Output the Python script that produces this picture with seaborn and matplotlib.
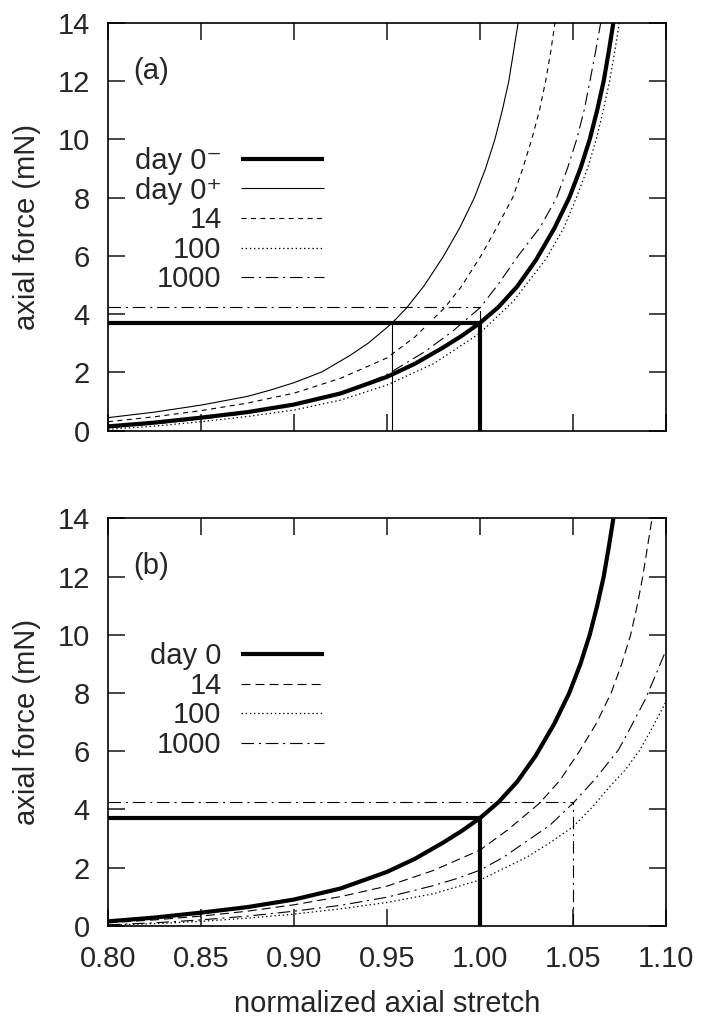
import numpy as np
import pandas as pd
import seaborn as sns
import matplotlib
matplotlib.use('Agg')
import matplotlib.pyplot as plt

# values (stretch, force in mN)
# panel (a)
a_day0m_x = [0.80, 0.825, 0.85, 0.875, 0.90, 0.925, 0.95, 0.965, 0.98, 0.99, 1.00, 1.01, 1.02,
             1.03, 1.04, 1.048, 1.054, 1.059, 1.063, 1.0665, 1.0692, 1.0717]
a_day0m_y = [0.15, 0.28, 0.45, 0.64, 0.90, 1.28, 1.85, 2.30, 2.85, 3.25, 3.70, 4.25, 4.95,
             5.85, 6.95, 8.0, 9.0, 10.0, 11.0, 12.0, 13.0, 14.0]
a_day0p_x = [0.80, 0.825, 0.85, 0.875, 0.8875, 0.90, 0.915, 0.93, 0.94, 0.9525, 0.9606, 0.97, 0.98,
             0.989, 0.997, 1.003, 1.008, 1.012, 1.0155, 1.018, 1.0205]
a_day0p_y = [0.45, 0.64, 0.88, 1.18, 1.40, 1.65, 2.02, 2.58, 3.01, 3.68, 4.22, 4.98, 5.95,
             6.95, 8.0, 9.0, 10.0, 11.0, 12.0, 13.0, 14.0]
a_d14_x = [0.80, 0.825, 0.85, 0.875, 0.90, 0.925, 0.95, 0.965, 0.981, 0.990, 1.0005, 1.0092,
           1.0176, 1.023, 1.0278, 1.032, 1.0353, 1.038, 1.0403]
a_d14_y = [0.31, 0.48, 0.69, 0.95, 1.29, 1.80, 2.50, 3.22, 4.22, 4.95, 6.0, 7.0,
           8.0, 9.0, 10.0, 11.0, 12.0, 13.0, 14.0]
a_d100_x = [0.80, 0.825, 0.85, 0.875, 0.90, 0.925, 0.95, 0.975, 1.00, 1.018, 1.0355, 1.045,
            1.0518, 1.0578, 1.0625, 1.0663, 1.0697, 1.0724, 1.0749]
a_d100_y = [0.05, 0.16, 0.31, 0.49, 0.71, 1.05, 1.57, 2.30, 3.35, 4.45, 5.9, 6.95,
            8.0, 9.0, 10.0, 11.0, 12.0, 13.0, 14.0]
a_d1000_x = [0.80, 0.825, 0.85, 0.875, 0.90, 0.925, 0.9375, 0.95, 0.97, 0.985, 1.00, 1.0095,
             1.0205, 1.0325, 1.0412, 1.047, 1.052, 1.056, 1.0591, 1.0621, 1.0649]
a_d1000_y = [0.10, 0.24, 0.40, 0.60, 0.88, 1.30, 1.58, 1.93, 2.70, 3.40, 4.22, 5.0,
             6.0, 7.0, 8.0, 9.0, 10.0, 11.0, 12.0, 13.0, 14.0]

# panel (b)
b_day0_x = a_day0m_x
b_day0_y = a_day0m_y
b_d14_x = [0.80, 0.825, 0.85, 0.875, 0.90, 0.925, 0.95, 0.975, 1.00, 1.015, 1.032, 1.043,
           1.0535, 1.0625, 1.0705, 1.0762, 1.081, 1.0845, 1.0875, 1.090, 1.0925]
b_d14_y = [0.10, 0.20, 0.33, 0.50, 0.72, 1.00, 1.36, 1.90, 2.60, 3.30, 4.21, 5.0,
           6.0, 6.95, 8.0, 9.0, 10.0, 11.0, 12.0, 13.0, 14.0]
b_d100_x = [0.80, 0.825, 0.85, 0.875, 0.90, 0.925, 0.95, 0.975, 1.00, 1.025, 1.0375, 1.05,
            1.06, 1.07, 1.078, 1.086, 1.093, 1.10]
b_d100_y = [0.02, 0.07, 0.15, 0.26, 0.40, 0.58, 0.80, 1.10, 1.57, 2.35, 2.85, 3.40,
            4.05, 4.80, 5.35, 6.04, 6.85, 7.70]
b_d1000_x = [0.80, 0.825, 0.85, 0.875, 0.90, 0.925, 0.95, 0.975, 0.9875, 1.00, 1.0125, 1.025,
             1.0375, 1.05, 1.062, 1.0744, 1.08, 1.0887, 1.094, 1.10]
b_d1000_y = [0.03, 0.10, 0.20, 0.33, 0.50, 0.70, 0.98, 1.38, 1.62, 1.91, 2.35, 2.90,
             3.45, 4.21, 5.05, 6.04, 6.70, 7.76, 8.55, 9.47]

# reference markers
ref_stretch = 1.00
ref_force = 3.7
ref_force_1000 = 4.24
a_day0p_ref_stretch = 0.9525
b_1000_ref_stretch = 1.05

x_ticks = [0.80, 0.85, 0.90, 0.95, 1.00, 1.05, 1.10]
x_tick_labels = ['0.80', '0.85', '0.90', '0.95', '1.00', '1.05', '1.10']
y_ticks = [0, 2, 4, 6, 8, 10, 12, 14]

sns.set_style('ticks')
plt.rcParams['font.family'] = ['Liberation Sans', 'DejaVu Sans']
plt.rcParams['font.size'] = 21
plt.rcParams['lines.scale_dashes'] = False
plt.rcParams['lines.solid_capstyle'] = 'butt'
plt.rcParams['lines.dash_capstyle'] = 'butt'

thick = dict(color='k', lw=3.0, linestyle='-')
thin = dict(color='k', lw=0.8, linestyle='-')
short_dash = dict(color='k', lw=0.8, linestyle=(0, (3.6, 3.2)))
long_dash = dict(color='k', lw=0.8, linestyle=(0, (6.5, 3.6)))
dots = dict(color='k', lw=0.9, linestyle=(0, (1.0, 2.0)))
dashdot = dict(color='k', lw=0.8, linestyle=(0, (9, 3.5, 1.5, 3.5)))


def curve(ax, x, y, label, style):
    df = pd.DataFrame({'stretch': x, 'force': y})
    sns.lineplot(data=df, x='stretch', y='force', ax=ax, estimator=None,
                 sort=False, label=label, **style)


def style_axes(ax, show_x):
    ax.set_xlim(0.80, 1.10)
    ax.set_ylim(0, 14)
    ax.set_xticks(x_ticks)
    ax.set_yticks(y_ticks)
    if show_x:
        ax.set_xticklabels(x_tick_labels)
        ax.set_xlabel('normalized axial stretch', labelpad=12)
    else:
        ax.set_xticklabels([])
        ax.set_xlabel('')
    ax.set_ylabel('axial force (mN)', labelpad=12)
    ax.tick_params(direction='in', top=True, right=True, length=12,
                   width=1.2, labelsize=21)
    ax.tick_params(axis='x', pad=14)
    ax.tick_params(axis='y', pad=13)
    for s in ax.spines.values():
        s.set_linewidth(1.2)
        s.set_color('k')


def add_legend(ax, y_anchor):
    ax.legend(loc='center right', bbox_to_anchor=(0.387, y_anchor), frameon=False,
              markerfirst=False, handlelength=2.85, handletextpad=0.66,
              labelspacing=0.055, borderpad=0, borderaxespad=0, fontsize=21)


fig = plt.figure(figsize=(7.05, 10.22), dpi=100)
ax_a = fig.add_axes([0.1532, 0.5785, 0.7915, 0.3993])
ax_b = fig.add_axes([0.1532, 0.0942, 0.7915, 0.3986])

# panel (a)
ax_a.plot([ref_stretch, ref_stretch], [ref_force, ref_force_1000], **dashdot)
ax_a.plot([0.80, ref_stretch], [ref_force_1000, ref_force_1000], **dashdot)
ax_a.plot([a_day0p_ref_stretch, a_day0p_ref_stretch], [0, ref_force], **thin)
ax_a.plot([0.80, ref_stretch, ref_stretch], [ref_force, ref_force, 0], **thick)
curve(ax_a, a_day0m_x, a_day0m_y, 'day 0\u207b', thick)
curve(ax_a, a_day0p_x, a_day0p_y, 'day 0\u207a', thin)
curve(ax_a, a_d14_x, a_d14_y, '14', short_dash)
curve(ax_a, a_d100_x, a_d100_y, '100', dots)
curve(ax_a, a_d1000_x, a_d1000_y, '1000', dashdot)
style_axes(ax_a, False)
ax_a.text(0.045, 0.882, '(a)', transform=ax_a.transAxes, va='center', fontsize=21)
add_legend(ax_a, 0.516)

# panel (b)
ax_b.plot([b_1000_ref_stretch, b_1000_ref_stretch], [0, ref_force_1000], **dashdot)
ax_b.plot([0.80, b_1000_ref_stretch], [ref_force_1000, ref_force_1000], **dashdot)
ax_b.plot([0.80, ref_stretch, ref_stretch], [ref_force, ref_force, 0], **thick)
curve(ax_b, b_day0_x, b_day0_y, 'day 0', thick)
curve(ax_b, b_d14_x, b_d14_y, '14', long_dash)
curve(ax_b, b_d100_x, b_d100_y, '100', dots)
curve(ax_b, b_d1000_x, b_d1000_y, '1000', dashdot)
style_axes(ax_b, True)
ax_b.text(0.045, 0.883, '(b)', transform=ax_b.transAxes, va='center', fontsize=21)
add_legend(ax_b, 0.5525)

fig.savefig('out.png', dpi=100)
